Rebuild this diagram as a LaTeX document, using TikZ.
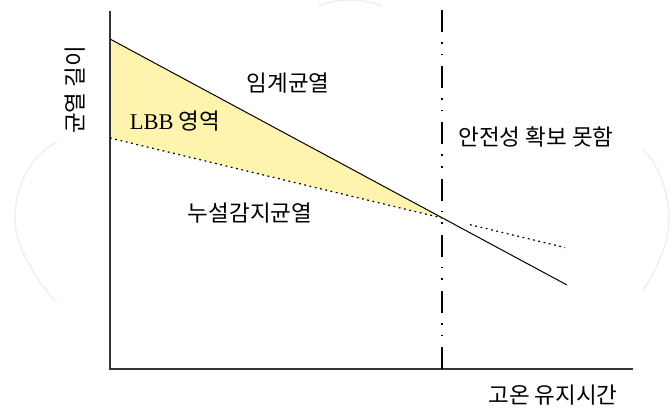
\documentclass[tikz,border=0pt]{standalone}
\usepackage{fontspec}
\newfontfamily\kr{Noto Sans CJK KR}
\newfontfamily\lbbfont{Liberation Serif}
\definecolor{lbbyellow}{HTML}{FFF4AE}
\definecolor{axisgray}{HTML}{333333}
\definecolor{wmgray}{HTML}{EFEFEF}
\begin{document}
\begin{tikzpicture}[x=1pt,y=-1pt,
  lbl/.style={font=\kr\fontsize{22.5}{26}\selectfont, inner sep=0pt, anchor=center},
  axisline/.style={draw=axisgray, line width=1.4pt},
  curveline/.style={draw=black, line width=1pt},
  dotline/.style={draw=black, line width=1.2pt, dash pattern=on 1.8pt off 3.6pt},
  dashdotdot/.style={draw=black, line width=1.1pt, dash pattern=on 22pt off 10pt on 1.6pt off 10pt on 1.6pt off 11pt},
  watermark/.style={draw=wmgray, line width=1.4pt}]
\useasboundingbox (0,0) rectangle (672,416);
\fill[white] (0,0) rectangle (672,416);
% faint watermark arcs
\draw[watermark] (57,142) .. controls (20,160) and (5,215) .. (22,250) .. controls (32,272) and (45,290) .. (57,303);
\draw[watermark] (643,150) .. controls (665,170) and (675,215) .. (665,245) .. controls (658,265) and (650,280) .. (643,290);
\draw[watermark] (318,6) .. controls (335,-2) and (365,-2) .. (382,6);
% coordinates
\coordinate (O) at (110,369);
\coordinate (Ytop) at (110,11);
\coordinate (Xend) at (633,369);
\coordinate (A) at (110,39);
\coordinate (B) at (567,285);
\coordinate (C) at (110,138);
\coordinate (P) at (442,218);
\coordinate (D1) at (470,224.7);
\coordinate (D2) at (565,247.5);
\coordinate (Vtop) at (442,10);
\coordinate (Vbot) at (442,369);
% LBB region
\fill[lbbyellow] (A) -- (P) -- (C) -- cycle;
% axes
\draw[axisline] (Ytop) -- (O) -- (Xend);
% vertical dash-dot line
\draw[dashdotdot] (Vtop) -- (Vbot);
% critical crack line
\draw[curveline] (A) -- (B);
% leak-detection crack line
\draw[dotline] (C) -- (P);
\draw[dotline] (D1) -- (D2);
% labels
\node[lbl] (crit) at (288,83) {임계균열};
\node[lbl] (lbb) at (175,121) {{\lbbfont LBB} 영역};
\node[lbl] (leak) at (250,213) {누설감지균열};
\node[lbl] (unsafe) at (536,137) {안전성 확보 못함};
\node[lbl] (xlab) at (553,395) {고온 유지시간};
\node[lbl, rotate=90] (ylab) at (75,90) {균열 길이};
\end{tikzpicture}
\end{document}
